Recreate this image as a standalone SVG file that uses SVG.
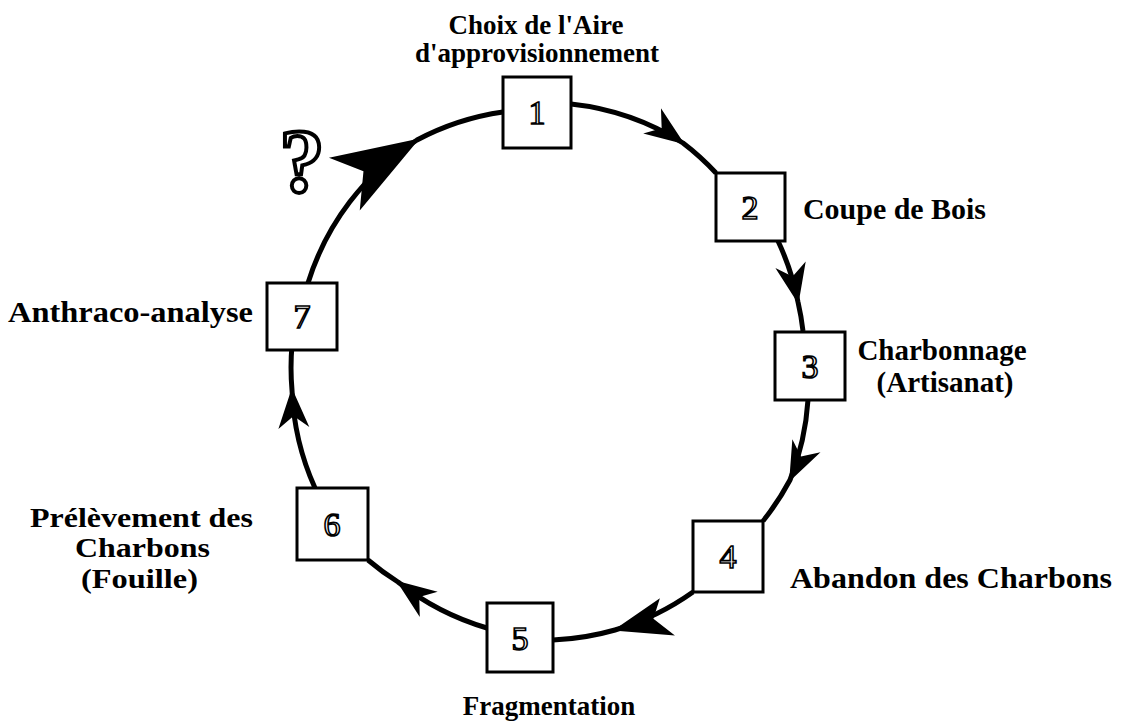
<svg xmlns="http://www.w3.org/2000/svg" width="1122" height="725" viewBox="0 0 1122 725">
<style>
.box{fill:#fff;stroke:#000;stroke-width:3}
.num{font-family:"Liberation Serif",serif;font-size:34px;fill:#fff;stroke:#000;stroke-width:1.6;text-anchor:middle}
.lbl{font-family:"Liberation Serif",serif;font-weight:bold;font-size:30px;fill:#000}
.c{text-anchor:middle}
.e{text-anchor:end}
.conn{fill:none;stroke:#000;stroke-width:5;marker-mid:url(#ah)}
</style>
<defs>
<marker id="ah" markerUnits="userSpaceOnUse" orient="auto" overflow="visible" markerWidth="1" markerHeight="1" refX="0" refY="0">
<path d="M2,0 L-38,-16 L-26,0 L-38,15 Z" fill="#000"/>
</marker>
<marker id="ahLong" markerUnits="userSpaceOnUse" orient="auto" overflow="visible" markerWidth="1" markerHeight="1" refX="0" refY="0">
<path d="M2,0 L-56,-22 L-40,0 L-52,18 Z" fill="#000"/>
</marker>
<marker id="ahBig" markerUnits="userSpaceOnUse" orient="auto" overflow="visible" markerWidth="1" markerHeight="1" refX="0" refY="0">
<path d="M3,0 L-85,-29 L-62,0 L-85,32 Z" fill="#000"/>
</marker>
</defs>
<rect width="1122" height="725" fill="#fff"/>
<g id="connectors">
<path class="conn" d="M571,104 A262,262 0 0 1 683,143 A262,262 0 0 1 716,173"/>
<path class="conn" d="M778,241 A262,262 0 0 1 798,302 A262,262 0 0 1 803,331"/>
<path class="conn" d="M808,400 A262,262 0 0 1 790,480 A262,262 0 0 1 763,521"/>
<path class="conn" style="marker-mid:url(#ahLong)" d="M693,592 A262,262 0 0 1 615,630 A262,262 0 0 1 553,640"/>
<path class="conn" d="M487,628 A262,262 0 0 1 398,582 A262,262 0 0 1 368,560"/>
<path class="conn" d="M315,488 A262,262 0 0 1 292,390 A262,262 0 0 1 292,345"/>
<path class="conn" style="marker-mid:url(#ahBig)" d="M308,283 A262,262 0 0 1 417,140 A262,262 0 0 1 503,112"/>
</g>
<g id="node1"><rect class="box" x="503" y="77" width="68" height="71"/><text class="num" x="537" y="124">1</text>
<text class="lbl c" x="536" y="34" style="font-size:27px">Choix de l'Aire</text><text class="lbl c" x="537" y="62" style="font-size:27px">d'approvisionnement</text></g>
<g id="node2"><rect class="box" x="716" y="173" width="69" height="68"/><text class="num" x="750" y="219">2</text>
<text class="lbl" x="803" y="219" textLength="183" lengthAdjust="spacingAndGlyphs">Coupe de Bois</text></g>
<g id="node3"><rect class="box" x="775" y="332" width="70" height="68"/><text class="num" x="810" y="378">3</text>
<text class="lbl c" x="942" y="360" style="font-size:29px">Charbonnage</text><text class="lbl c" x="945" y="392" style="font-size:29px">(Artisanat)</text></g>
<g id="node4"><rect class="box" x="693" y="521" width="70" height="71"/><text class="num" x="728" y="568">4</text>
<text class="lbl" x="790" y="588" textLength="322" lengthAdjust="spacingAndGlyphs">Abandon des Charbons</text></g>
<g id="node5"><rect class="box" x="487" y="603" width="66" height="69"/><text class="num" x="520" y="650">5</text>
<text class="lbl c" x="549" y="715" style="font-size:27px">Fragmentation</text></g>
<g id="node6"><rect class="box" x="297" y="488" width="71" height="72"/><text class="num" x="332" y="536">6</text>
<text class="lbl" x="30" y="527" style="font-size:28px" textLength="223" lengthAdjust="spacingAndGlyphs">Prélèvement des</text><text class="lbl" x="75" y="557" style="font-size:28px" textLength="135" lengthAdjust="spacingAndGlyphs">Charbons</text><text class="lbl" x="81" y="588" style="font-size:28px" textLength="117" lengthAdjust="spacingAndGlyphs">(Fouille)</text></g>
<g id="node7"><rect class="box" x="267" y="283" width="70" height="67"/><text class="num" x="302" y="328">7</text>
<text class="lbl" x="8" y="322" textLength="245" lengthAdjust="spacingAndGlyphs">Anthraco-analyse</text></g>
<g id="question"><text x="302" y="192" style="font-family:'Liberation Serif',serif;font-weight:bold;font-size:90px;fill:#fff;stroke:#000;stroke-width:4;text-anchor:middle">?</text></g>
</svg>
